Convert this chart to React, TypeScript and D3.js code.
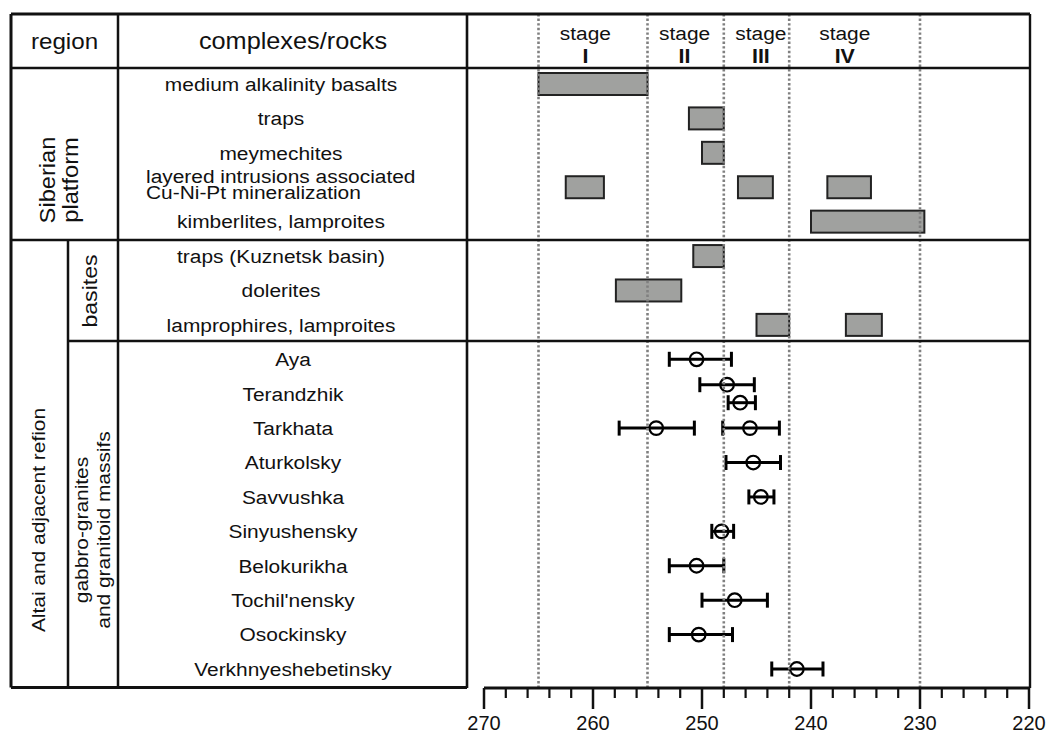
import React from "react";
import * as d3 from "d3";

const W = 1047;
const H = 734;

// Stage boundaries (Ma) and labels
const stageBounds = [265, 255, 248, 242, 230];
const stageNames = ["I", "II", "III", "IV"];
const stageLabelAges = [260.7, 251.6, 244.6, 236.9];

// Rows (complexes / rocks)
const rowKeys = [
  "basalts", "traps", "meymechites", "layered", "kimberlites",
  "trapsK", "dolerites", "lamprophires",
  "Aya", "Terandzhik", "Tarkhata", "Aturkolsky", "Savvushka", "Sinyushensky",
  "Belokurikha", "Tochilnensky", "Osockinsky", "Verkhnyeshebetinsky",
];
const rowLabels: string[][] = [
  ["medium alkalinity basalts"], ["traps"], ["meymechites"],
  ["layered intrusions associated", "Cu-Ni-Pt mineralization"],
  ["kimberlites, lamproites"],
  ["traps (Kuznetsk basin)"], ["dolerites"], ["lamprophires, lamproites"],
  ["Aya"], ["Terandzhik"], ["Tarkhata"], ["Aturkolsky"], ["Savvushka"],
  ["Sinyushensky"], ["Belokurikha"], ["Tochil'nensky"], ["Osockinsky"],
  ["Verkhnyeshebetinsky"],
];

// Age ranges shown as grey bars
const barRow = [0, 1, 2, 3, 3, 3, 4, 5, 6, 7, 7];
const barOlder = [265, 251.2, 250, 262.5, 246.7, 238.5, 240, 250.8, 257.9, 245, 236.8];
const barYounger = [255, 248, 248, 259, 243.5, 234.5, 229.6, 248, 251.9, 242, 233.5];

// Dated massifs: mean with error
const ageRow = [8, 9, 9, 10, 10, 11, 12, 13, 14, 15, 16, 17];
const ageSub = [0, -1, 1, 0, 0, 0, 0, 0, 0, 0, 0, 0];
const ageMean = [250.5, 247.7, 246.5, 254.2, 245.6, 245.3, 244.6, 248.2, 250.5, 247.0, 250.3, 241.3];
const ageOlder = [253.0, 250.2, 247.6, 257.6, 248.1, 247.8, 245.7, 249.1, 253.0, 250.0, 253.0, 243.6];
const ageYounger = [247.3, 245.2, 245.1, 250.7, 242.9, 242.8, 243.4, 247.1, 248.0, 244.0, 247.2, 238.9];

const majorTicks = [270, 260, 250, 240, 230, 220];
const minorTicks = [268, 266, 264, 262, 258, 256, 254, 252, 248, 246, 244, 242, 238, 236, 234, 232, 228, 226, 224, 222];

const FONT = "'Liberation Sans', Arial, Helvetica, sans-serif";
const INK = "#111";

function SText(props: {
  x: number; y: number; size: number; anchor?: string; weight?: string | number;
  rotate?: number; children: React.ReactNode;
}) {
  const { x, y, size, anchor = "middle", weight = "normal", rotate = 0, children } = props;
  return (
    <g transform={`translate(${x},${y}) rotate(${rotate}) scale(1.1,1)`}>
      <text x={0} y={0} textAnchor={anchor as any} fontSize={size} fontFamily={FONT} fontWeight={weight as any} fill={INK}>
        {children}
      </text>
    </g>
  );
}

export default function App() {
  const L = { left: 11, col1: 68, col2: 118, col3: 467, right: 1030, top: 14, head: 68, sib: 240, bas: 341, bottom: 687.5 };
  const x = d3.scaleLinear().domain([270, 220]).range([484, 1029]);
  const y = d3.scalePoint<string>().domain(rowKeys).range([84, 669]);
  const axisY = 688;
  const barH = 22;
  const capH = 7.5;

  return (
    <svg width={W} height={H} style={{ position: "absolute", left: 0, top: 0, background: "#fff" }}>
      <rect x={0} y={0} width={W} height={H} fill="#fff" />

      {/* grey bars */}
      {barRow.map((r, i) => {
        const yc = y(rowKeys[r])!;
        const x0 = x(barOlder[i]);
        const x1 = x(barYounger[i]);
        return (
          <rect key={"b" + i} x={x0} y={yc - barH / 2} width={x1 - x0} height={barH}
            fill="#a0a19f" stroke="#222" strokeWidth={2} />
        );
      })}

      {/* error bars */}
      {ageRow.map((r, i) => {
        const yc = y(rowKeys[r])! + ageSub[i] * 9;
        const x0 = x(ageOlder[i]);
        const x1 = x(ageYounger[i]);
        const xm = x(ageMean[i]);
        return (
          <g key={"e" + i} stroke="#000" strokeWidth={3} fill="none">
            <line x1={x0} x2={x1} y1={yc} y2={yc} />
            <line x1={x0} x2={x0} y1={yc - capH} y2={yc + capH} />
            <line x1={x1} x2={x1} y1={yc - capH} y2={yc + capH} />
            <circle cx={xm} cy={yc} r={6.8} strokeWidth={2.2} />
          </g>
        );
      })}

      {/* stage dotted lines */}
      {stageBounds.map((s, i) => (
        <line key={"s" + i} x1={x(s)} x2={x(s)} y1={L.top} y2={axisY}
          stroke="#808080" strokeWidth={2.6} strokeDasharray="2.4,2.2" />
      ))}

      {/* stage labels */}
      {stageNames.map((n, i) => (
        <g key={"sl" + i}>
          <SText x={x(stageLabelAges[i])} y={39.5} size={19}>stage</SText>
          <SText x={x(stageLabelAges[i])} y={63.3} size={19.5} weight="bold">{n}</SText>
        </g>
      ))}

      {/* table frame */}
      <g stroke={INK} fill="none">
        <line x1={L.left} x2={L.right} y1={L.top} y2={L.top} strokeWidth={3} />
        <line x1={L.left} x2={L.left} y1={L.top} y2={L.bottom} strokeWidth={3} />
        <line x1={L.left} x2={L.col3} y1={L.bottom} y2={L.bottom} strokeWidth={3} />
        <line x1={L.col3} x2={L.col3} y1={L.top} y2={axisY} strokeWidth={2.6} />
        <line x1={L.right} x2={L.right} y1={L.top} y2={axisY} strokeWidth={2.4} />
        <line x1={L.col2} x2={L.col2} y1={L.top} y2={L.bottom} strokeWidth={2.5} />
        <line x1={L.col1} x2={L.col1} y1={L.sib} y2={L.bottom} strokeWidth={2.5} />
        <line x1={L.left} x2={L.right} y1={L.head} y2={L.head} strokeWidth={2.5} />
        <line x1={L.left} x2={L.right} y1={L.sib} y2={L.sib} strokeWidth={2.5} />
        <line x1={L.col1} x2={L.right} y1={L.bas} y2={L.bas} strokeWidth={2.5} />
      </g>

      {/* headers */}
      <SText x={64.5} y={49} size={22}>region</SText>
      <SText x={293} y={49} size={23}>complexes/rocks</SText>

      {/* rotated group labels */}
      <SText x={55} y={180} size={21.5} rotate={-90}>Siberian</SText>
      <SText x={78} y={180} size={21.5} rotate={-90}>platform</SText>
      <SText x={97} y={291} size={21} rotate={-90}>basites</SText>
      <SText x={45} y={520} size={19} rotate={-90}>Altai and adjacent refion</SText>
      <SText x={88} y={530} size={19} rotate={-90}>gabbro-granites</SText>
      <SText x={110} y={530} size={19} rotate={-90}>and granitoid massifs</SText>

      {/* row labels */}
      {rowLabels.map((lines, i) => {
        const yc = y(rowKeys[i])!;
        const cx = i < 8 ? 281 : 293;
        if (lines.length === 2) {
          return (
            <g key={"rl" + i}>
              <SText x={146} y={yc - 4.5} size={19} anchor="start">{lines[0]}</SText>
              <SText x={146} y={yc + 12} size={19} anchor="start">{lines[1]}</SText>
            </g>
          );
        }
        return <SText key={"rl" + i} x={cx} y={yc + 6.8} size={19}>{lines[0]}</SText>;
      })}

      {/* axis */}
      <g stroke={INK}>
        <line x1={x(270)} x2={L.right} y1={axisY} y2={axisY} strokeWidth={3} />
        {majorTicks.map((t) => (
          <line key={"M" + t} x1={x(t)} x2={x(t)} y1={axisY} y2={axisY + 21} strokeWidth={2.5} />
        ))}
        {minorTicks.map((t) => (
          <line key={"m" + t} x1={x(t)} x2={x(t)} y1={axisY} y2={axisY + 10} strokeWidth={2.2} />
        ))}
      </g>
      {majorTicks.map((t) => (
        <text key={"t" + t} x={x(t)} y={730} textAnchor="middle" fontSize={20} fontFamily={FONT} fill={INK}>
          {t}
        </text>
      ))}
    </svg>
  );
}
